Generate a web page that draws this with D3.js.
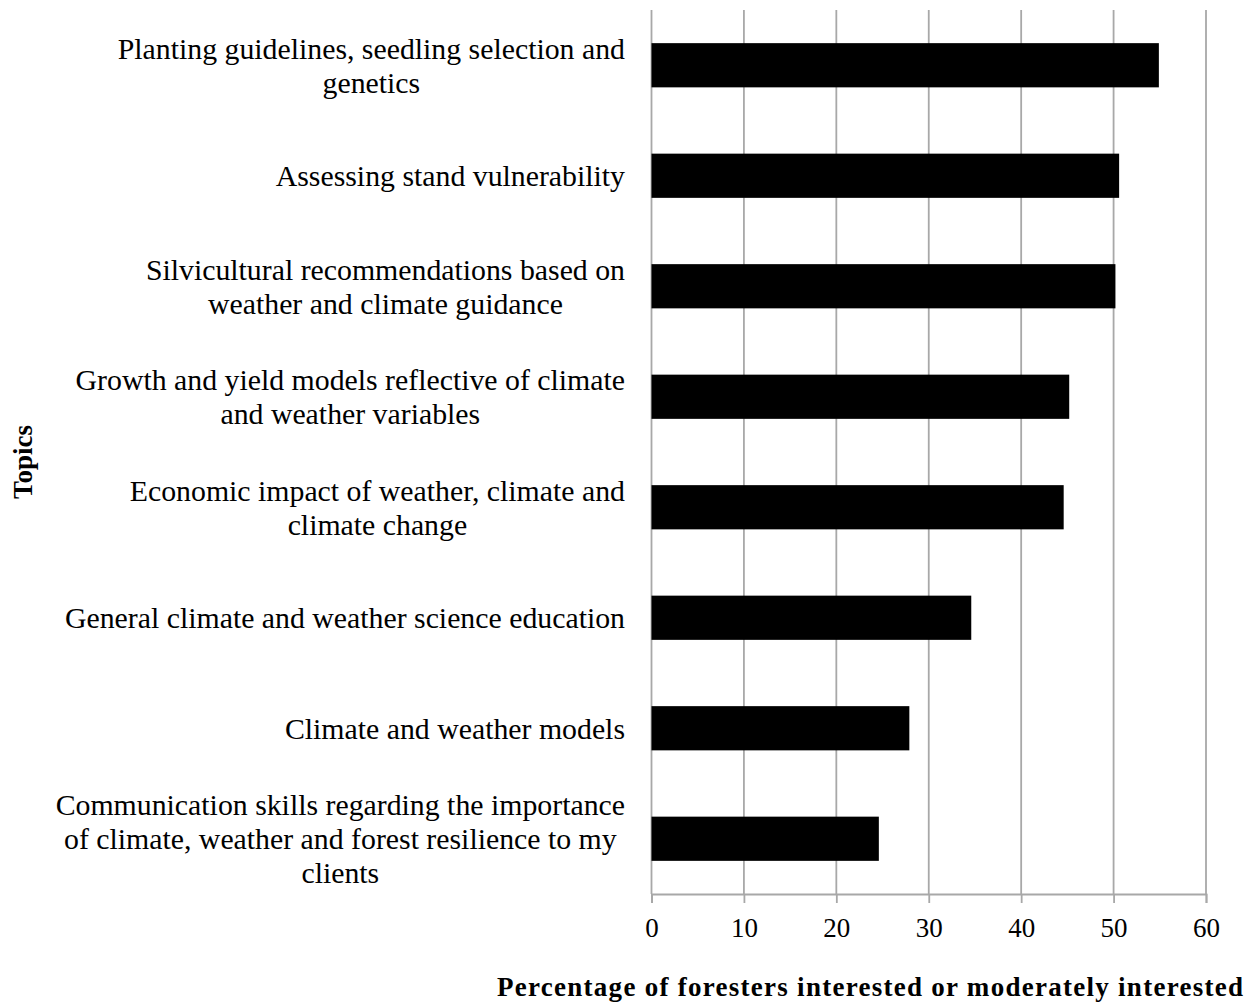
<!DOCTYPE html>
<html>
<head>
<meta charset="utf-8">
<script src="https://cdn.jsdelivr.net/npm/d3@7"></script>
<style>
  html, body { margin: 0; padding: 0; background: #fff; }
  svg { display: block; }
  text { font-family: "Liberation Serif", "Times New Roman", serif; fill: #000; }
</style>
</head>
<body>
<svg id="chart" width="1250" height="1005"></svg>
<script>
// ---- Data ----
const categories = [
  ["Planting guidelines, seedling selection and", "genetics"],
  ["Assessing stand vulnerability"],
  ["Silvicultural recommendations based on", "weather and climate guidance"],
  ["Growth and yield models reflective of climate", "and weather variables"],
  ["Economic impact of weather, climate and", "climate change"],
  ["General climate and weather science education"],
  ["Climate and weather models"],
  ["Communication skills regarding the importance", "of climate, weather and forest resilience to my", "clients"]
];
const values = [54.9, 50.6, 50.2, 45.2, 44.6, 34.6, 27.9, 24.6];
const xTicks = [0, 10, 20, 30, 40, 50, 60];
const xTitle = "Percentage of foresters interested or moderately interested";
const yTitle = "Topics";

// ---- Layout ----
const svg = d3.select("#chart");
const x0 = 651.5, x1 = 1206, yTop = 10, yBot = 894;
const gridColor = "#a8a8a8";

const x = d3.scaleLinear().domain([0, 60]).range([x0, x1]);
const y = d3.scaleBand().domain(d3.range(categories.length)).range([yTop, yBot])
  .paddingInner(0.6).paddingOuter(0.3);

// gridlines
svg.append("g").selectAll("line").data(xTicks).join("line")
  .attr("x1", d => x(d)).attr("x2", d => x(d))
  .attr("y1", yTop).attr("y2", yBot)
  .attr("stroke", gridColor).attr("stroke-width", 1.8);

// x axis
const xAxis = d3.axisBottom(x).tickValues(xTicks).tickSize(9).tickPadding(15).tickFormat(d3.format("d"));
const gx = svg.append("g").attr("transform", `translate(0,${yBot})`).call(xAxis);
gx.select(".domain").attr("stroke", gridColor).attr("stroke-width", 1.8);
gx.selectAll(".tick line").attr("stroke", gridColor).attr("stroke-width", 1.8);
gx.selectAll(".tick text").attr("font-size", 27).attr("font-family", "Liberation Serif, serif").attr("fill", "#000");

// bars
svg.append("g").selectAll("rect").data(values).join("rect")
  .attr("x", x(0))
  .attr("y", (d, i) => y(i))
  .attr("width", d => x(d) - x(0))
  .attr("height", y.bandwidth())
  .attr("fill", "#000");

// category labels
const fs = 29.8, lh = 34, labelRight = 625;
const lg = svg.append("g");
categories.forEach((lines, i) => {
  const cy = y(i) + y.bandwidth() / 2;
  const t = lg.append("text").attr("font-size", fs);
  const widths = lines.map(l => {
    const tmp = lg.append("text").attr("font-size", fs).text(l);
    const w = tmp.node().getComputedTextLength();
    tmp.remove();
    return w;
  });
  const maxW = d3.max(widths);
  const cx = labelRight - maxW / 2;
  lines.forEach((l, j) => {
    t.append("tspan")
      .attr("x", cx)
      .attr("y", cy + (j - (lines.length - 1) / 2) * lh + fs * 0.35)
      .attr("text-anchor", "middle")
      .text(l);
  });
});

// axis titles
svg.append("text")
  .attr("x", 870).attr("y", 996)
  .attr("text-anchor", "middle")
  .attr("font-size", 27).attr("font-weight", "bold")
  .attr("textLength", 746).attr("lengthAdjust", "spacing")
  .text(xTitle);

svg.append("text")
  .attr("transform", "translate(32,462) rotate(-90)")
  .attr("text-anchor", "middle")
  .attr("font-size", 27).attr("font-weight", "bold")
  .text(yTitle);
</script>
</body>
</html>
